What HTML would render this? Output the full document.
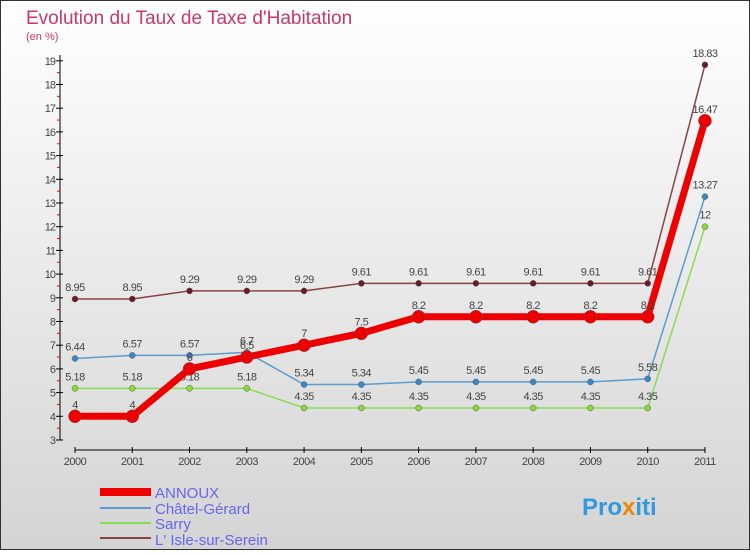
<!DOCTYPE html>
<html><head><meta charset="utf-8"><style>
body{margin:0;}
#c{width:750px;height:550px;position:relative;font-family:"Liberation Sans",sans-serif;}
</style></head><body>
<div id="c">
<svg id="s" width="750" height="550" xmlns="http://www.w3.org/2000/svg">
<defs><linearGradient id="bg" x1="0" y1="0" x2="0" y2="1"><stop offset="0" stop-color="#ffffff"/><stop offset="1" stop-color="#d4d4d4"/></linearGradient></defs>
<rect x="0.5" y="0.5" width="749" height="549" fill="url(#bg)" stroke="#333"/>
<text x="26" y="24" font-size="19" fill="#c8386a">Evolution du Taux de Taxe d'Habitation</text>
<text x="26" y="40" font-size="11" fill="#c8386a">(en %)</text>
<g id="axes"></g><g id="series"></g>
<g>
<rect x="100" y="488" width="51" height="8" fill="#ee0000"/>
<text x="155" y="498" font-size="15" fill="#6666ee">ANNOUX</text>
<rect x="100" y="507" width="51" height="2" fill="#5b9bd0"/>
<text x="155" y="514" font-size="15" fill="#6666ee">Châtel-Gérard</text>
<rect x="100" y="522" width="51" height="2" fill="#88dd55"/>
<text x="155" y="529" font-size="15" fill="#6666ee">Sarry</text>
<rect x="100" y="537" width="51" height="2" fill="#884444"/>
<text x="155" y="545" font-size="15" fill="#6666ee">L' Isle-sur-Serein</text>
</g>
<text x="582" y="515" font-size="24" font-weight="bold" fill="#3399dd">Pro<tspan fill="#ee8800">x</tspan>iti</text>
</svg></div>
<script>
const years=[2000,2001,2002,2003,2004,2005,2006,2007,2008,2009,2010,2011];
const annoux=[4,4,6,6.5,7,7.5,8.2,8.2,8.2,8.2,8.2,16.47];
const chatel=[6.44,6.57,6.57,6.7,5.34,5.34,5.45,5.45,5.45,5.45,5.58,13.27];
const sarry=[5.18,5.18,5.18,5.18,4.35,4.35,4.35,4.35,4.35,4.35,4.35,12];
const isle=[8.95,8.95,9.29,9.29,9.29,9.61,9.61,9.61,9.61,9.61,9.61,18.83];
const yTicks=[3,4,5,6,7,8,9,10,11,12,13,14,15,16,17,18,19];
const NS="http://www.w3.org/2000/svg";
const X=i=>75+i*57.27, Y=v=>440-(v-3)*23.7;
function mk(t,a,p){const e=document.createElementNS(NS,t);for(const k in a)e.setAttribute(k,a[k]);p.appendChild(e);return e;}
const ax=document.getElementById('axes');
const ya=mk('line',{x1:60,y1:55,x2:60,y2:440,stroke:'#000'},ax);


const xa=mk('line',{x1:75,y1:450,x2:705,y2:450,stroke:'#000'},ax);


yTicks.forEach(v=>{
 mk('line',{x1:56,x2:63,y1:Y(v),y2:Y(v),stroke:'#000'},ax);
 if(v<19) mk('line',{x1:57,x2:60,y1:Y(v+0.5),y2:Y(v+0.5),stroke:'#e00'},ax);
 const t=mk('text',{x:55,y:Y(v)+4,'font-size':11,fill:'#444','text-anchor':'end','letter-spacing':'-1'},ax);
 t.textContent=v;
 
 
});
years.forEach((y,i)=>{
 mk('line',{x1:X(i),x2:X(i),y1:447,y2:453,stroke:'#000'},ax);
 const t=mk('text',{x:X(i),y:465,'font-size':11,fill:'#444','text-anchor':'middle','letter-spacing':'-0.5'},ax);
 t.textContent=y;
 
 
});
const sg=document.getElementById('series');
function series(arr,color,w,r,name,dot){
 const g=mk('g',{},sg);
 
 
 const l=mk('polyline',{points:arr.map((v,i)=>X(i)+','+Y(v)).join(' '),fill:'none',stroke:color,'stroke-width':w},g);
 
 
 arr.forEach((v,i)=>{
  const c=mk('circle',{cx:X(i),cy:Y(v),r:r,fill:dot,stroke:'#555','stroke-width':0.5},g);
  
  
  const t=mk('text',{x:X(i),y:Y(v)-8,'font-size':11,fill:'#444','text-anchor':'middle','letter-spacing':'-0.5'},g);
  t.textContent=v;
  
  
 });
}
series(isle,'#884444',1.5,3,'isle-sur-serein','#6a1a2a');
series(sarry,'#88dd55',1.5,3,'sarry','#88dd33');
series(chatel,'#5b9bd0',1.5,3,'chatel-gerard','#3a88cc');
series(annoux,'#ee0000',7,6.5,'annoux','#ee0000');
</script>
</body></html>
